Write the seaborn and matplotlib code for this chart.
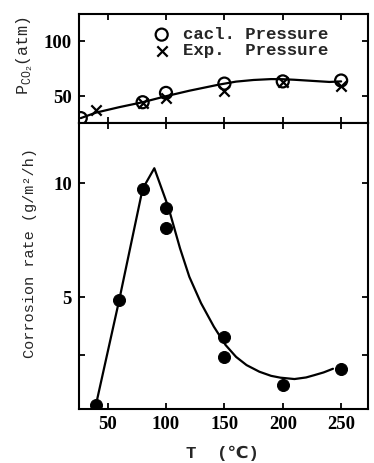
import matplotlib
matplotlib.use("Agg")
import matplotlib.pyplot as plt
import seaborn as sns
import pandas as pd

# top panel: CO2 partial pressure vs temperature
calc_T = [27, 80, 100, 150, 200, 250]
calc_P = [30, 44.5, 53, 61.5, 63.5, 64.3]
exp_T = [40, 80, 100, 150, 200, 250]
exp_P = [37, 44, 48.8, 54.5, 62.5, 59]
p_curve_T = [27, 40, 60, 80, 100, 120, 145, 160, 175, 190, 200, 210, 225, 240, 250]
p_curve_P = [30, 35, 40, 44.5, 50, 55, 60.5, 63.3, 64.8, 65.6, 65.5, 65, 64, 63, 63.5]

# bottom panel: corrosion rate vs temperature
rate_T = [40, 60, 80, 100, 100, 150, 150, 200, 250]
rate_V = [0.3, 4.9, 9.75, 8.9, 8.05, 3.28, 2.38, 1.17, 1.86]
r_curve_T = [40, 60, 80, 90, 102, 112, 120, 130, 141, 151, 160, 169, 180, 190, 198, 210, 220, 227, 235, 243]
r_curve_V = [0.3, 4.9, 9.75, 10.65, 8.95, 7.15, 5.9, 4.75, 3.72, 2.92, 2.4, 2.04, 1.75, 1.57, 1.49, 1.43, 1.5, 1.6, 1.72, 1.88]

x_ticks = [50, 100, 150, 200, 250]

sns.set_style("ticks")
plt.rcParams["font.family"] = ["Liberation Serif", "DejaVu Sans"]
plt.rcParams["mathtext.fontset"] = "custom"
plt.rcParams["mathtext.rm"] = "Liberation Mono"

fig = plt.figure(figsize=(3.74, 4.63), dpi=100)
W, H = 374, 463
ax1 = fig.add_axes([79 / W, 1 - 122.5 / H, 289 / W, 108.5 / H])
ax2 = fig.add_axes([79 / W, 1 - 409 / H, 289 / W, 286.5 / H])

# top panel
sns.lineplot(x=p_curve_T, y=p_curve_P, color="black", linewidth=1.6, ax=ax1, sort=False)
sns.scatterplot(x=calc_T, y=calc_P, marker="o", s=75, facecolor="none",
                edgecolor="black", linewidth=1.6, label="cacl. Pressure", ax=ax1, zorder=3)
sns.scatterplot(x=exp_T, y=exp_P, marker="x", s=55, color="black",
                linewidth=1.6, label="Exp.  Pressure", ax=ax1, zorder=3)
ax1.set_xlim(25.5, 273)
ax1.set_ylim(26, 125)
ax1.set_yticks([50, 100])
ax1.set_xticks(x_ticks)
ax1.set_xticklabels([])
leg = ax1.legend(loc="upper left", bbox_to_anchor=(0.22, 0.96), frameon=False,
                 prop={"family": "Liberation Mono", "weight": "bold", "size": 12.5},
                 handletextpad=0.6, borderpad=0, labelspacing=0.05, handlelength=1.2)

# bottom panel
sns.lineplot(x=r_curve_T, y=r_curve_V, color="black", linewidth=1.6, ax=ax2, sort=False)
sns.scatterplot(x=rate_T, y=rate_V, marker="o", s=75, color="black",
                edgecolor="black", ax=ax2, zorder=3)
ax2.set_xlim(25.5, 273)
ax2.set_ylim(0.12, 12.65)
ax2.set_xticks(x_ticks)
ax2.set_yticks([2.5, 5, 10])
ax2.set_yticklabels(["", "5", "10"])

for ax in (ax1, ax2):
    ax.set_xlabel("")
    ax.set_ylabel("")
    for sp in ax.spines.values():
        sp.set_visible(True)
        sp.set_linewidth(1.5)
        sp.set_color("black")
    ax.tick_params(direction="in", length=4, width=1.3, top=True, right=True,
                   colors="black", labelsize=13.5, pad=5)
    for lab in ax.get_xticklabels() + ax.get_yticklabels():
        lab.set_fontweight("bold")

fig.text(30 / W, 1 - 253.5 / H, "Corrosion rate (g/m²/h)", rotation=90,
         ha="center", va="center", fontsize=11, family=["Liberation Mono", "DejaVu Sans"])
fig.text(25 / W, 1 - 56 / H, r"P$_{\mathrm{CO_2}}$(atm)", rotation=90,
         ha="center", va="center", fontsize=12, family=["Liberation Mono", "DejaVu Sans"])
fig.text(222 / W, 1 - 453 / H, "T  (℃)", ha="center", va="center",
         fontsize=12.5, fontweight="bold", family=["Liberation Mono", "DejaVu Sans"])

fig.savefig("out.png", dpi=100)
